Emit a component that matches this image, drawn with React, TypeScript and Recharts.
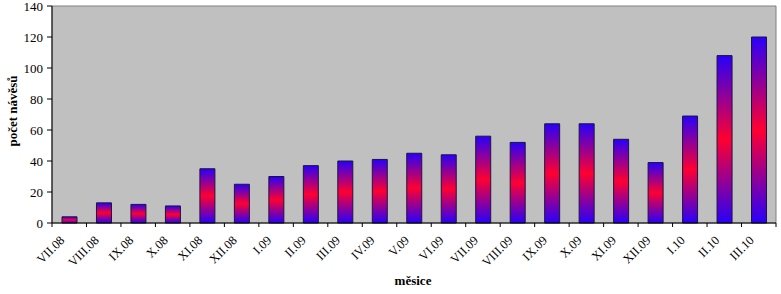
import { BarChart, Bar, XAxis, YAxis, CartesianGrid, ReferenceArea } from 'recharts'

const months = [
  'VII.08', 'VIII.08', 'IX.08', 'X.08', 'XI.08', 'XII.08', 'I.09', 'II.09', 'III.09', 'IV.09',
  'V.09', 'VI.09', 'VII.09', 'VIII.09', 'IX.09', 'X.09', 'XI.09', 'XII.09', 'I.10', 'II.10', 'III.10',
]
const visits = [4, 13, 12, 11, 35, 25, 30, 37, 40, 41, 45, 44, 56, 52, 64, 64, 54, 39, 69, 108, 120]
const yTicks = [0, 20, 40, 60, 80, 100, 120, 140]
const gridValues = [20, 40, 60, 80, 100, 120]

const data = months.map((m, i) => ({ month: m, count: visits[i] }))

const W = 781
const H = 294
const LEFT = 52
const RIGHT = 5
const BAND = (W - LEFT - RIGHT) / months.length
const SERIF = "'Times New Roman', 'Liberation Serif', serif"

const MonthTick = (props: any) => {
  const { x, y, payload, index } = props
  const half = BAND / 2
  const tx = x - 4
  const ty = y + 18
  return (
    <g>
      <line x1={x - half} y1={y} x2={x - half} y2={y + 4} stroke="#000" />
      {index === months.length - 1 && (
        <line x1={x + half} y1={y} x2={x + half} y2={y + 4} stroke="#000" />
      )}
      <text
        x={tx}
        y={ty}
        transform={`rotate(-45, ${tx}, ${ty})`}
        textAnchor="end"
        fontSize={12.5}
        fontFamily={SERIF}
        fill="#000"
      >
        {payload.value}
      </text>
    </g>
  )
}

export default function App() {
  return (
    <div style={{ position: 'absolute', left: 0, top: 0, width: W, height: H, background: '#fff' }}>
      <BarChart width={W} height={H} data={data} margin={{ top: 6, right: RIGHT, left: 0, bottom: 0 }}>
        <defs>
          <linearGradient id="barFill" x1="0" y1="0" x2="0" y2="1">
            <stop offset="0%" stopColor="#2800fa" />
            <stop offset="50%" stopColor="#ff0030" />
            <stop offset="100%" stopColor="#2800fa" />
          </linearGradient>
        </defs>
        <ReferenceArea y1={0} y2={140} fill="#c0c0c0" fillOpacity={1} stroke="#808080" strokeWidth={1} />
        <CartesianGrid vertical={false} stroke="#000" strokeWidth={1} horizontalValues={gridValues} />
        <XAxis
          dataKey="month"
          interval={0}
          height={71}
          tickSize={0}
          tickMargin={0}
          tickLine={false}
          axisLine={{ stroke: '#000' }}
          tick={<MonthTick />}
          label={{
            content: () => (
              <text x={413} y={285} textAnchor="middle" fontSize={13} fontWeight="bold" fontFamily={SERIF} fill="#000">
                měsice
              </text>
            ),
          }}
        />
        <YAxis
          width={LEFT}
          domain={[0, 140]}
          ticks={yTicks}
          interval={0}
          tickSize={5}
          tickMargin={4}
          axisLine={{ stroke: '#000' }}
          tickLine={{ stroke: '#000' }}
          tick={{ fontSize: 13, fontFamily: SERIF, fill: '#000' }}
          label={{
            content: () => (
              <text
                x={17}
                y={111}
                transform="rotate(-90, 17, 111)"
                textAnchor="middle"
                fontSize={13}
                fontWeight="bold"
                fontFamily={SERIF}
                fill="#000"
              >
                počet návěsů
              </text>
            ),
          }}
        />
        <Bar dataKey="count" barSize={15} fill="url(#barFill)" stroke="#1c1440" strokeWidth={1} isAnimationActive={false} />
      </BarChart>
    </div>
  )
}
